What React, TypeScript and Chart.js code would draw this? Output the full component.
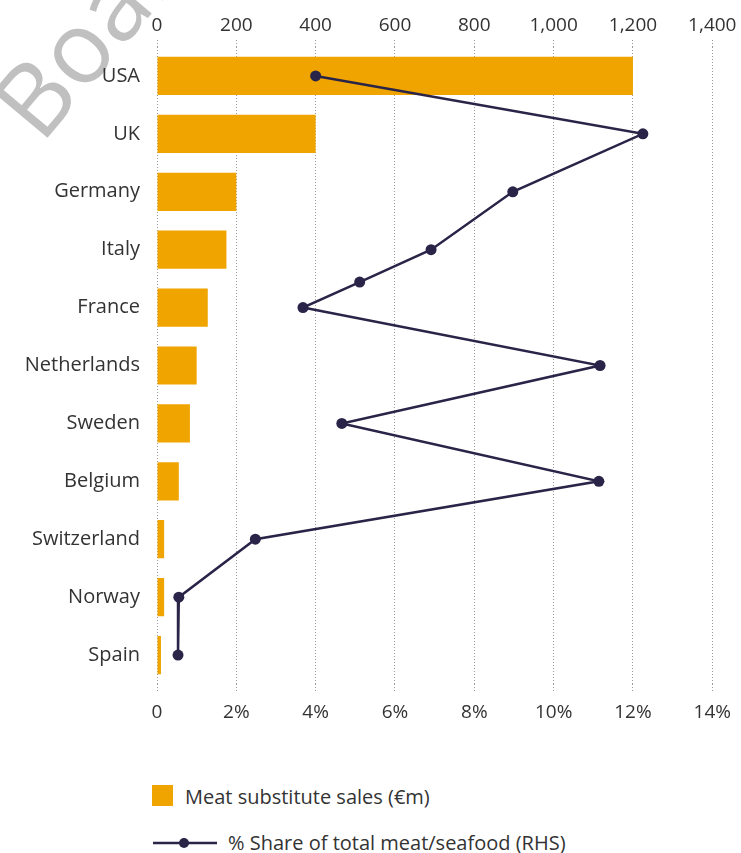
import React, { useEffect, useRef } from 'react';
import { Chart, registerables } from 'chart.js';

Chart.register(...registerables);

const countries = ['USA', 'UK', 'Germany', 'Italy', 'France', 'Netherlands', 'Sweden', 'Belgium', 'Switzerland', 'Norway', 'Spain'];
const salesEurM = [1200, 400, 200, 175, 128, 100, 83, 55, 18, 18, 10];
const sharePct = [4.0, 12.25, 8.97, 6.91, 5.11, 3.68, 11.17, 4.66, 11.14, 2.48, 0.55, 0.53];
const sharePos = [0, 1, 2, 3, 3.56, 4, 5, 6, 7, 8, 9, 10];
const salesMax = 1400;
const salesStep = 200;
const shareMax = 14;
const shareStep = 2;

const ORANGE = '#F0A400';
const NAVY = '#2A2548';
const TEXT = '#333333';
const FONT = "'Open Sans', sans-serif";

export default function App() {
  const ref = useRef<HTMLCanvasElement | null>(null);

  useEffect(() => {
    if (!ref.current) return;
    const chart = new Chart(ref.current, {
      type: 'bar',
      data: {
        labels: countries,
        datasets: [
          {
            type: 'line',
            label: '% Share of total meat/seafood (RHS)',
            data: sharePct.map((v, i) => ({ x: v, y: sharePos[i] })),
            xAxisID: 'xPct',
            yAxisID: 'yPos',
            indexAxis: 'y',
            borderColor: NAVY,
            backgroundColor: NAVY,
            borderWidth: 2.5,
            pointRadius: 5.5,
            pointBackgroundColor: NAVY,
            pointBorderWidth: 0,
            fill: false,
            tension: 0,
          } as any,
          {
            type: 'bar',
            label: 'Meat substitute sales (€m)',
            data: salesEurM,
            xAxisID: 'xSales',
            yAxisID: 'yCat',
            backgroundColor: ORANGE,
            borderWidth: 0,
            grouped: false,
            barPercentage: 0.66,
            categoryPercentage: 1,
          } as any,
        ],
      },
      options: {
        indexAxis: 'y',
        responsive: false,
        animation: false,
        layout: { padding: { left: 0, right: 25, top: 0, bottom: 0 } },
        plugins: { legend: { display: false }, tooltip: { enabled: false } },
        scales: {
          xSales: {
            type: 'linear',
            position: 'top',
            min: 0,
            max: salesMax,
            ticks: {
              stepSize: salesStep,
              color: TEXT,
              font: { family: FONT, size: 19 },
              padding: 3,
              maxRotation: 0,
              callback: (v: any) => Number(v).toLocaleString('en-US'),
            },
            grid: {
              color: '#9a9a9a',
              lineWidth: 1,
              tickLength: 7,
              tickColor: '#9a9a9a',
              tickBorderDash: [1, 2],
            },
            border: { display: false, dash: [1, 2] },
            afterFit: (s: any) => { s.height = 47; },
          },
          xPct: {
            type: 'linear',
            position: 'bottom',
            min: 0,
            max: shareMax,
            ticks: {
              stepSize: shareStep,
              color: TEXT,
              font: { family: FONT, size: 19 },
              padding: 10,
              maxRotation: 0,
              callback: (v: any) => (Number(v) === 0 ? '0' : v + '%'),
            },
            grid: {
              drawOnChartArea: false,
              drawTicks: true,
              tickLength: 7,
              tickColor: '#9a9a9a',
              tickBorderDash: [1, 2],
            },
            border: { display: false },
            afterFit: (s: any) => { s.height = 56; },
          },
          yCat: {
            type: 'category',
            position: 'left',
            offset: true,
            ticks: {
              color: TEXT,
              font: { family: FONT, size: 20 },
              padding: 9,
            },
            grid: { display: false },
            border: { display: false },
            afterFit: (s: any) => { s.width = 157; },
          },
          yPos: {
            type: 'linear',
            display: false,
            offset: false,
            min: -0.5,
            max: countries.length - 0.5,
            reverse: true,
            grid: { display: false, offset: false },
          },
        },
      },
    });
    return () => chart.destroy();
  }, []);

  return (
    <div style={{ position: 'absolute', left: 0, top: 0, width: 741, height: 853, background: '#fff', overflow: 'hidden', fontFamily: FONT }}>
      <div style={{ position: 'absolute', left: -27, top: 88, fontSize: 100, color: '#c0c0c0', transform: 'rotate(-50deg)', transformOrigin: '0 0', whiteSpace: 'nowrap', pointerEvents: 'none', lineHeight: 1 }}>Board</div>
      <canvas ref={ref} width={741} height={740} style={{ position: 'absolute', left: 0, top: 0, width: 741, height: 740 }} />
      <div style={{ position: 'absolute', left: 152, top: 785, width: 21, height: 21, background: ORANGE }} />
      <div style={{ position: 'absolute', left: 185, top: 783, fontSize: 20, lineHeight: '28px', color: TEXT, whiteSpace: 'nowrap' }}>Meat substitute sales (€m)</div>
      <svg style={{ position: 'absolute', left: 150, top: 833 }} width={72} height={20}>
        <line x1={3} y1={10} x2={67} y2={10} stroke={NAVY} strokeWidth={2.5} />
        <circle cx={34} cy={10} r={5} fill={NAVY} />
      </svg>
      <div style={{ position: 'absolute', left: 228, top: 829, fontSize: 20, lineHeight: '28px', color: TEXT, whiteSpace: 'nowrap' }}>% Share of total meat/seafood (RHS)</div>
    </div>
  );
}
